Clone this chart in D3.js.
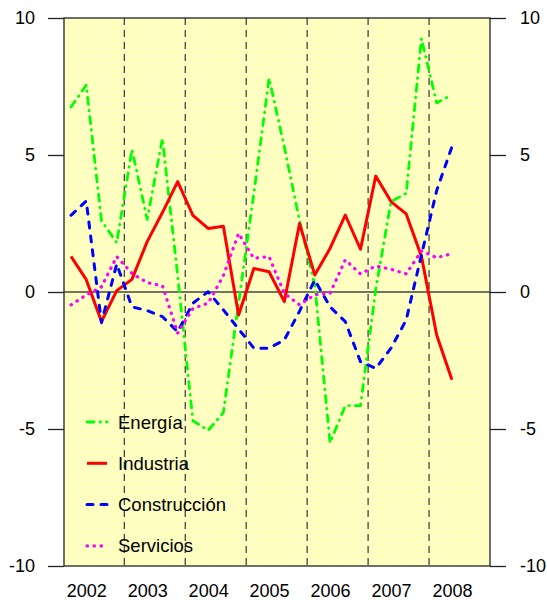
<!DOCTYPE html>
<html>
<head>
<meta charset="utf-8">
<script src="https://cdn.jsdelivr.net/npm/d3@7"></script>
<style>
  body { margin: 0; background: #fff; }
  text { font-family: "Liberation Sans", Arial, sans-serif; }
</style>
</head>
<body>
<div id="chart"></div>
<script>
'use strict';

// quarterly series, 2002T1 .. 2008T2
var periods = ['2002T1', '2002T2', '2002T3', '2002T4', '2003T1', '2003T2', '2003T3', '2003T4',
    '2004T1', '2004T2', '2004T3', '2004T4', '2005T1', '2005T2', '2005T3', '2005T4',
    '2006T1', '2006T2', '2006T3', '2006T4', '2007T1', '2007T2', '2007T3', '2007T4',
    '2008T1', '2008T2'];
var years = ['2002', '2003', '2004', '2005', '2006', '2007', '2008'];
var yTicks = [-10, -5, 0, 5, 10];

var energia = [6.75, 7.55, 2.6, 1.8, 5.2, 2.65, 5.6, 0.6, -4.7, -5.05, -4.4, -0.4, 3.6,
    7.8, 5.3, 2.6, 0.25, -5.5, -4.15, -4.15, 0.1, 3.3, 3.6, 9.25, 6.9, 7.2];
var industria = [1.3, 0.45, -1.08, 0.05, 0.46, 1.84, 2.9, 4.03, 2.8, 2.32, 2.4, -0.84, 0.86,
    0.74, -0.35, 2.5, 0.62, 1.59, 2.81, 1.56, 4.23, 3.3, 2.85, 1.3, -1.57, -3.2];
var construccion = [2.8, 3.32, -1.12, 1.02, -0.54, -0.68, -0.9, -1.45, -0.41, 0.01, -0.65, -1.35, -2.05,
    -2.05, -1.75, -0.7, 0.44, -0.54, -1.08, -2.54, -2.79, -2.05, -1.02, 1.35, 3.7, 5.3];
var servicios = [-0.47, -0.11, 0.19, 1.29, 0.68, 0.34, 0.23, -1.5, -0.6, -0.41, 0.6, 2.14, 1.23,
    1.29, -0.05, -0.47, -0.1, -0.05, 1.17, 0.66, 0.95, 0.83, 0.66, 1.5, 1.25, 1.4];

var series = [
    { name: 'Energía', values: energia, color: '#00ff00', dash: '7,6,0.5,6', width: 2.8 },
    { name: 'Industria', values: industria, color: '#ff0000', dash: null, width: 3 },
    { name: 'Construcción', values: construccion, color: '#0000ff', dash: '6,8', width: 3 },
    { name: 'Servicios', values: servicios, color: '#ff00ff', dash: '0.5,6.5', width: 3.2 }
];

var W = 547, H = 600;
var plotL = 64, plotR = 490, plotT = 18, plotB = 566;

var svg = d3.select('#chart').append('svg')
    .attr('width', W)
    .attr('height', H);

var x = d3.scaleLinear().domain([-0.46, 27.5]).range([plotL, plotR]);
var y = d3.scaleLinear().domain([-10, 10]).range([plotB, plotT]);

// dotted pale yellow background
var pat = svg.append('defs').append('pattern')
    .attr('id', 'bg')
    .attr('width', 3).attr('height', 3)
    .attr('patternUnits', 'userSpaceOnUse');
pat.append('rect').attr('width', 3).attr('height', 3).attr('fill', '#ffffbc');
pat.append('rect').attr('width', 1).attr('height', 1).attr('fill', '#ffffee');

svg.append('rect')
    .attr('x', plotL).attr('y', plotT)
    .attr('width', plotR - plotL).attr('height', plotB - plotT)
    .attr('fill', 'url(#bg)');

// year separators
svg.append('g').selectAll('line')
    .data(years.slice(1))
    .enter().append('line')
    .attr('x1', function(d, i) { return x(3.5 + 4 * i); })
    .attr('x2', function(d, i) { return x(3.5 + 4 * i); })
    .attr('y1', plotT).attr('y2', plotB)
    .attr('stroke', '#444')
    .attr('stroke-width', 1.3)
    .attr('stroke-dasharray', '7,5');

// zero line
svg.append('line')
    .attr('x1', plotL).attr('x2', plotR)
    .attr('y1', y(0)).attr('y2', y(0))
    .attr('stroke', '#444')
    .attr('stroke-width', 1.3);

var line = d3.line()
    .x(function(d, i) { return x(i); })
    .y(function(d) { return y(d); });

svg.append('g').selectAll('path')
    .data(series)
    .enter().append('path')
    .attr('d', function(d) { return line(d.values); })
    .attr('fill', 'none')
    .attr('stroke', function(d) { return d.color; })
    .attr('stroke-width', function(d) { return d.width; })
    .attr('stroke-dasharray', function(d) { return d.dash; })
    .attr('stroke-linecap', function(d) { return d.dash ? 'round' : 'butt'; })
    .attr('stroke-linejoin', 'round');

// frame
svg.append('rect')
    .attr('x', plotL).attr('y', plotT)
    .attr('width', plotR - plotL).attr('height', plotB - plotT)
    .attr('fill', 'none')
    .attr('stroke', '#222')
    .attr('stroke-width', 1.3);

function styleAxis(g) {
    g.select('.domain').remove();
    g.selectAll('line').attr('stroke', '#222').attr('stroke-width', 1.3);
    g.selectAll('text').attr('font-size', 18).attr('fill', '#000')
        .style('font-family', '"Liberation Sans", Arial, sans-serif');
}

svg.append('g')
    .attr('transform', 'translate(' + plotL + ',0)')
    .call(d3.axisLeft(y).tickValues(yTicks).tickSize(16).tickPadding(13).tickFormat(String))
    .call(styleAxis);

svg.append('g')
    .attr('transform', 'translate(' + plotR + ',0)')
    .call(d3.axisRight(y).tickValues(yTicks).tickSize(16).tickPadding(14).tickFormat(String))
    .call(styleAxis);

svg.append('g')
    .attr('transform', 'translate(0,' + plotB + ')')
    .call(d3.axisBottom(x)
        .tickValues(years.map(function(d, i) { return 1 + 4 * i; }))
        .tickFormat(function(d) { return years[(d - 1) / 4]; })
        .tickSize(0).tickPadding(18))
    .call(styleAxis);

// legend
var legend = svg.append('g').selectAll('g')
    .data(series)
    .enter().append('g')
    .attr('transform', function(d, i) { return 'translate(86,' + (422 + i * 41.3) + ')'; });

legend.append('line')
    .attr('x1', 1).attr('x2', 21)
    .attr('stroke', function(d) { return d.color; })
    .attr('stroke-width', function(d) { return d.width; })
    .attr('stroke-dasharray', function(d) { return d.dash; })
    .attr('stroke-linecap', function(d) { return d.dash ? 'round' : 'butt'; });

legend.append('text')
    .attr('x', 32)
    .attr('y', 6.5)
    .attr('font-size', 18.5)
    .text(function(d) { return d.name; });
</script>
</body>
</html>
